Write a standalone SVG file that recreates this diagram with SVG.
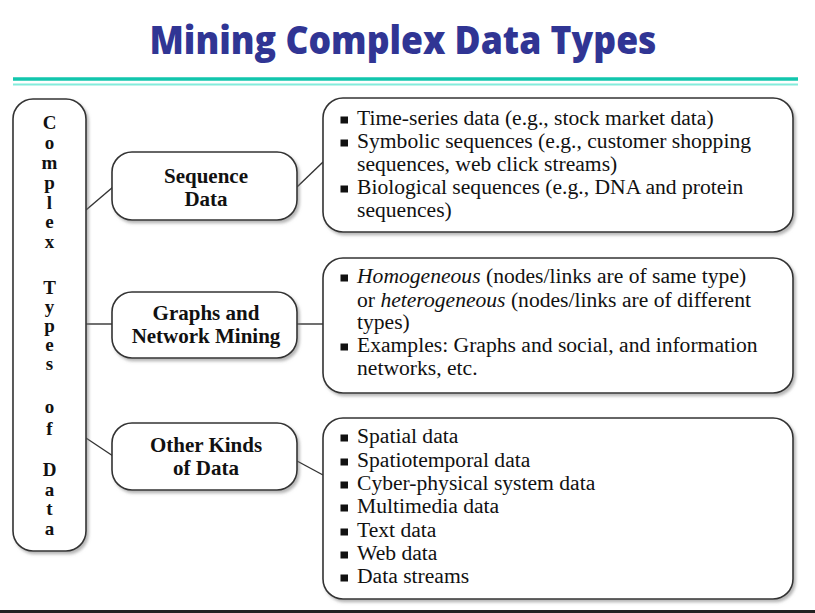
<svg xmlns="http://www.w3.org/2000/svg" width="815" height="613" viewBox="0 0 815 613">
  <defs>
    <filter id="shadow" x="-10%" y="-10%" width="125%" height="125%">
      <feDropShadow dx="2" dy="2.5" stdDeviation="1.5" flood-color="#777" flood-opacity="0.55"/>
    </filter>
    <rect id="bullet" width="7.5" height="7" fill="#111"/>
  </defs>
  <style>
    .title { font-family: "Open Sans", "Liberation Sans", sans-serif; font-weight: 800; font-size: 38px; fill: #303594; }
    .box { fill: #fff; stroke: #333; stroke-width: 1.6; filter: url(#shadow); }
    .label { font-family: "Liberation Serif", serif; font-weight: bold; font-size: 21px; fill: #111; text-anchor: middle; }
    .vert { font-family: "Liberation Serif", serif; font-weight: bold; font-size: 19px; fill: #111; text-anchor: middle; }
    .item { font-family: "Liberation Serif", serif; font-size: 21.6px; fill: #111; }
    .conn line { stroke: #333; stroke-width: 1.4; }
  </style>

  <rect width="815" height="613" fill="#fff"/>

  <!-- heading and rule -->
  <text class="title" x="403" y="54" text-anchor="middle" textLength="507" lengthAdjust="spacingAndGlyphs">Mining Complex Data Types</text>
  <line x1="13" y1="79" x2="798" y2="79" stroke="#12c6ad" stroke-width="3.5"/>
  <line x1="13" y1="84.5" x2="798" y2="84.5" stroke="#84ecdc" stroke-width="2"/>

  <!-- connectors -->
  <g id="connectors" class="conn">
    <line x1="86" y1="210" x2="113" y2="187"/>
    <line x1="297" y1="187" x2="323" y2="162"/>
    <line x1="86" y1="324" x2="112" y2="324"/>
    <line x1="297" y1="324" x2="323" y2="324"/>
    <line x1="86" y1="438" x2="113" y2="456"/>
    <line x1="297" y1="461" x2="323" y2="475"/>
  </g>

  <!-- root: vertical title box, one letter per row -->
  <g id="complex-types">
    <rect class="box" x="13" y="99" width="73" height="452" rx="20"/>
    <text class="vert"><tspan x="49.5" y="129">C</tspan><tspan x="49.5" y="149">o</tspan><tspan x="49.5" y="168.5">m</tspan><tspan x="49.5" y="188.5">p</tspan><tspan x="49.5" y="208.5">l</tspan><tspan x="49.5" y="228">e</tspan><tspan x="49.5" y="248">x</tspan><tspan x="49.5" y="294">T</tspan><tspan x="49.5" y="313">y</tspan><tspan x="49.5" y="332">p</tspan><tspan x="49.5" y="351">e</tspan><tspan x="49.5" y="370">s</tspan><tspan x="49.5" y="413">o</tspan><tspan x="49.5" y="434.5">f</tspan><tspan x="49.5" y="476">D</tspan><tspan x="49.5" y="495.5">a</tspan><tspan x="49.5" y="515">t</tspan><tspan x="49.5" y="534.5">a</tspan></text>
  </g>

  <!-- category nodes -->
  <g id="sequence-data">
    <rect class="box" x="112" y="152" width="185" height="68" rx="20"/>
    <text class="label" x="206" y="183">Sequence</text>
    <text class="label" x="206" y="206">Data</text>
  </g>
  <g id="graphs-network">
    <rect class="box" x="112" y="292" width="185" height="66" rx="20"/>
    <text class="label" x="206" y="320">Graphs and</text>
    <text class="label" x="206" y="343">Network Mining</text>
  </g>
  <g id="other-kinds">
    <rect class="box" x="112" y="423" width="185" height="67" rx="20"/>
    <text class="label" x="206" y="452">Other Kinds</text>
    <text class="label" x="206" y="475">of Data</text>
  </g>

  <!-- detail lists -->
  <g id="sequence-details">
    <rect class="box" x="323" y="98" width="470" height="134" rx="20"/>
    <use href="#bullet" x="340.5" y="116.5"/>
    <text class="item" x="357" y="125">Time-series data (e.g., stock market data)</text>
    <use href="#bullet" x="340.5" y="139.5"/>
    <text class="item" x="357" y="148">Symbolic sequences (e.g., customer shopping</text>
    <text class="item" x="357" y="171">sequences, web click streams)</text>
    <use href="#bullet" x="340.5" y="185.5"/>
    <text class="item" x="357" y="194">Biological sequences (e.g., DNA and protein</text>
    <text class="item" x="357" y="217">sequences)</text>
  </g>
  <g id="graph-details">
    <rect class="box" x="323" y="258" width="470" height="135" rx="20"/>
    <use href="#bullet" x="340.5" y="274.5"/>
    <text class="item" x="357" y="283"><tspan font-style="italic">Homogeneous</tspan> (nodes/links are of same type)</text>
    <text class="item" x="357" y="307">or <tspan font-style="italic">heterogeneous</tspan> (nodes/links are of different</text>
    <text class="item" x="357" y="329">types)</text>
    <use href="#bullet" x="340.5" y="343.5"/>
    <text class="item" x="357" y="352">Examples: Graphs and social, and information</text>
    <text class="item" x="357" y="375">networks, etc.</text>
  </g>
  <g id="other-details">
    <rect class="box" x="323" y="418" width="470" height="181" rx="20"/>
    <use href="#bullet" x="340.5" y="434.5"/>
    <text class="item" x="357" y="443">Spatial data</text>
    <use href="#bullet" x="340.5" y="458.5"/>
    <text class="item" x="357" y="467">Spatiotemporal data</text>
    <use href="#bullet" x="340.5" y="481.5"/>
    <text class="item" x="357" y="490">Cyber-physical system data</text>
    <use href="#bullet" x="340.5" y="504.5"/>
    <text class="item" x="357" y="513">Multimedia data</text>
    <use href="#bullet" x="340.5" y="528.5"/>
    <text class="item" x="357" y="537">Text data</text>
    <use href="#bullet" x="340.5" y="551.5"/>
    <text class="item" x="357" y="560">Web data</text>
    <use href="#bullet" x="340.5" y="574.5"/>
    <text class="item" x="357" y="583">Data streams</text>
  </g>

  <!-- bottom edge -->
  <rect x="0" y="610" width="815" height="3" fill="#222"/>
</svg>
